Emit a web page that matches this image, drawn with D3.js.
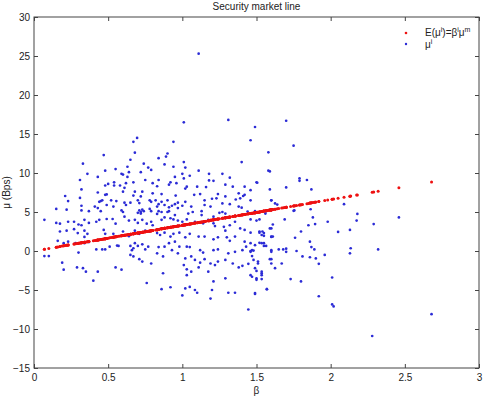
<!DOCTYPE html>
<html>
<head>
<meta charset="utf-8">
<script src="https://cdn.jsdelivr.net/npm/d3@7"></script>
<style>
  body { margin: 0; background: #fff; }
  text { font-family: "Liberation Sans", Arial, sans-serif; fill: #222; }
</style>
</head>
<body>
<div id="chart"></div>
<script>
// asset betas and their realised mean returns (Bps)
var beta = [
  0.695,0.67,0.68,0.47,0.65,0.33,0.74,0.55,0.63,0.48,0.77,0.79,0.36,0.43,0.59,0.60,0.72,0.31,0.63,0.67,
  0.75,0.50,0.48,0.54,0.54,0.62,0.61,0.58,0.80,0.32,0.43,0.60,0.68,0.73,0.48,0.49,0.67,0.80,0.21,0.31,
  0.72,0.23,0.45,0.46,0.44,0.52,0.555,0.61,0.62,0.65,0.70,0.71,0.78,0.79,0.32,0.41,0.49,0.535,0.15,0.22,
  0.32,0.37,0.43,0.45,0.59,0.60,0.71,0.72,0.74,0.78,0.79,0.72,0.73,0.70,
  1.49,0.94,1.46,0.90,0.89,0.84,1.01,1.40,0.88,0.94,1.02,1.11,1.58,1.59,1.00,0.95,1.05,1.01,1.18,1.27,
  1.32,0.84,1.18,1.21,0.92,0.91,0.96,1.50,0.83,1.03,1.02,1.10,1.16,1.29,1.34,1.42,1.46,0.86,1.08,1.12,
  1.24,1.29,1.38,1.42,1.41,0.955,0.82,0.86,0.90,0.97,1.02,1.15,1.20,1.23,1.36,1.39,1.46,1.60,0.84,0.83,
  0.88,0.91,0.93,0.95,0.97,1.00,1.06,1.15,1.19,1.27,1.32,1.38,1.40,0.84,0.86,0.90,0.91,1.04,1.07,1.13,
  1.27,1.29,1.44,1.49,1.56,
  0.07,0.15,0.175,0.23,0.27,0.30,0.34,0.37,0.32,0.42,0.44,0.49,0.53,0.55,0.61,0.64,0.68,0.70,0.73,0.76,
  0.79,0.80,0.175,0.22,0.27,0.295,0.34,0.36,0.34,0.47,0.48,0.535,0.60,0.64,0.68,0.71,0.75,0.78,0.16,0.20,
  0.23,0.28,0.30,0.34,0.37,0.42,0.46,0.48,0.51,0.56,0.57,0.65,0.66,0.67,0.68,0.70,0.73,0.75,0.77,0.07,
  0.10,0.65,0.67,0.71,0.73,0.19,0.20,0.29,0.33,0.35,0.43,0.55,0.59,0.79,0.40,0.76,
  0.83,0.95,1.13,1.21,1.25,0.86,0.88,0.92,0.94,0.97,1.00,1.03,1.085,1.14,1.175,1.21,1.22,1.28,1.29,1.32,
  1.355,1.39,1.42,1.46,1.52,1.55,1.59,1.60,0.83,0.85,0.88,0.92,0.94,0.98,1.02,1.05,1.11,1.15,1.21,1.24,
  1.30,1.32,1.355,1.42,1.46,1.535,0.91,0.95,0.84,0.88,0.93,0.98,1.03,1.05,1.12,1.14,1.21,1.24,1.31,1.355,
  1.405,1.43,1.46,1.49,1.535,1.55,1.60,0.83,0.87,0.97,1.02,1.06,1.085,1.12,1.15,1.19,1.22,1.24,1.29,1.34,
  1.38,1.405,1.445,1.49,1.51,1.535,1.59,1.60,1.01,1.03,1.06,1.11,0.87,1.03,1.175,1.21,1.29,1.47,1.50,1.535,
  0.86,0.92,1.02,1.05,1.085,1.10,1.20,1.31,1.355,1.49,1.57,1.19,1.00,1.445,
  1.11,1.01,1.31,1.70,1.75,1.58,0.64,1.505,1.59,1.70,1.79,1.79,1.84,1.87,1.60,1.625,1.64,2.09,1.565,1.60,
  1.75,1.755,1.865,1.46,1.50,1.52,1.69,1.88,1.98,2.18,2.175,2.46,2.29,1.61,1.60,1.85,1.895,1.52,1.54,1.55,
  1.60,1.61,1.80,2.05,2.13,1.76,1.86,1.87,1.89,1.52,1.55,1.565,1.46,1.47,1.48,1.60,1.65,1.68,1.70,1.70,
  1.77,1.96,2.135,2.13,2.32,1.81,1.86,1.90,1.92,1.47,1.48,1.51,1.60,1.625,1.67,1.46,1.50,1.535,1.50,1.535,
  1.73,1.80,2.01,1.57,1.49,1.92,2.01,2.02,2.68,2.28
];
var muI = [
  14.5,14.0,12.6,12.3,11.7,11.2,11.2,10.5,10.8,10.3,10.7,10.4,9.9,9.5,9.9,9.8,10.1,9.1,9.5,8.8,
  9.1,8.6,8.4,8.8,8.4,8.7,8.1,8.4,8.7,7.9,7.5,7.6,7.6,7.6,7.2,7.25,7.1,7.4,7.05,6.8,
  7.0,6.4,6.4,6.5,6.3,6.5,6.4,6.2,5.9,6.2,6.5,6.15,6.5,6.3,5.8,5.7,5.9,5.7,5.4,5.3,
  5.2,5.1,5.5,5.1,5.2,5.0,5.2,5.0,5.1,5.4,5.1,4.8,5.3,4.9,
  15.9,14.0,14.2,12.5,12.1,11.9,11.4,11.4,11.1,10.8,10.7,10.3,10.3,10.2,9.9,9.5,9.65,9.3,9.9,9.9,
  9.4,9.1,9.05,9.0,8.8,8.5,8.7,8.8,8.3,8.25,8.0,8.25,8.2,8.5,8.25,8.25,7.8,7.3,7.2,7.3,
  7.3,7.0,7.4,7.2,7.05,7.1,6.5,6.3,6.5,6.2,6.3,6.5,6.7,6.75,6.6,6.75,6.5,6.5,6.0,5.7,
  5.9,5.6,5.8,6.0,5.5,5.8,5.7,5.9,5.7,6.1,6.0,5.7,5.55,5.1,5.0,5.0,5.1,4.8,5.0,5.1,
  5.0,4.8,5.05,5.1,4.8,
  4.0,3.6,3.5,3.75,3.75,3.4,4.0,3.6,3.3,3.75,4.0,4.1,4.1,3.5,4.4,3.9,4.0,3.6,4.0,3.5,
  3.75,3.3,2.5,2.6,2.8,2.3,2.6,2.2,1.8,2.7,2.2,2.2,2.5,1.9,2.6,2.2,2.6,2.5,1.3,1.0,
  1.2,1.0,-0.2,1.0,1.15,0.2,0.2,0.2,0.55,0.7,0.65,0.65,0.1,0.35,1.0,0.65,0.85,0.2,0.55,-0.65,
  -0.65,-0.5,-0.7,-1.05,-1.35,-1.5,-2.4,-2.1,-2.2,-2.65,-2.65,-2.1,-2.4,-1.6,-3.8,-4.1,
  4.75,4.6,4.6,4.4,4.9,4.0,4.3,4.2,4.05,3.9,3.75,4.05,3.75,3.55,4.0,3.55,3.2,3.1,2.6,3.3,
  3.75,2.9,2.7,2.35,2.5,2.3,2.9,1.8,2.3,2.05,2.35,1.85,2.2,2.35,1.75,2.2,1.85,1.85,1.5,1.75,
  1.75,1.3,1.85,1.2,1.0,2.05,1.0,1.2,0.5,0.55,0.1,0.55,0.55,0.5,0.1,-0.2,0.1,0.2,-0.3,-0.1,
  0.1,0.55,-0.1,0.75,1.0,0.65,-0.1,-0.3,-0.7,-0.3,-0.95,-0.7,-1.15,-1.5,-1.05,-1.6,-1.8,-1.35,-1.15,-1.6,
  -2.1,-1.9,-1.65,-2.2,-1.35,-2.65,-1.05,-1.6,-1.8,-2.35,-2.65,-2.1,-2.85,-3.1,-2.65,-3.9,-3.5,-3.3,-3.7,-3.1,
  -4.9,-4.65,-4.8,-4.6,-5.0,-5.35,-5.0,-5.35,-5.35,-5.5,-4.9,-6.1,-5.7,-7.5,
  25.3,16.5,16.8,16.7,13.5,12.65,10.1,8.75,7.9,8.15,9.3,9.0,9.1,7.9,6.5,6.1,5.95,6.0,5.1,5.25,
  5.15,5.2,5.35,4.05,3.9,4.05,4.05,4.3,3.75,4.75,3.9,4.3,3.45,3.4,2.9,3.3,3.45,2.35,2.5,1.95,
  1.85,1.85,2.5,2.45,2.7,1.7,1.2,0.5,0.2,1.05,1.0,0.65,0.0,0.1,0.05,0.1,0.2,0.2,0.3,-0.1,
  0.0,-0.5,0.35,-0.3,0.2,-0.7,-0.8,-0.95,-1.65,-0.65,-1.15,-1.6,-1.05,-2.2,-1.6,-3.1,-2.55,-2.85,-3.5,-3.6,
  -3.6,-3.9,-3.4,-4.9,-5.4,-5.8,-6.85,-7.1,-8.1,-10.9
];
// market mean return: the red points are E(mu_i) = beta_i * muM
var muM = 3.3;

var xTicks = [0, 0.5, 1, 1.5, 2, 2.5, 3];
var yTicks = [-15, -10, -5, 0, 5, 10, 15, 20, 25, 30];

var W = 489, H = 402;
var margin = {top: 17, right: 10, bottom: 34, left: 34};
var width = W - margin.left - margin.right,
    height = H - margin.top - margin.bottom;

var svg = d3.select("#chart").append("svg")
    .attr("width", W)
    .attr("height", H);

var g = svg.append("g")
    .attr("transform", "translate(" + margin.left + "," + margin.top + ")");

var x = d3.scaleLinear().domain([0, 3]).range([0, width]);
var y = d3.scaleLinear().domain([-15, 30]).range([height, 0]);

var axisColor = "#444";

// bottom axis with labels, ticks pointing inward
g.append("g")
    .attr("transform", "translate(0," + height + ")")
    .call(d3.axisBottom(x).tickValues(xTicks).tickSize(-4).tickPadding(6)
      .tickFormat(function(d) { return d3.format("")(d); }));
g.append("g")
    .call(d3.axisLeft(y).tickValues(yTicks).tickSize(-4).tickPadding(4));
// top and right: ticks only
g.append("g")
    .call(d3.axisTop(x).tickValues(xTicks).tickSize(-4).tickFormat(""));
g.append("g")
    .attr("transform", "translate(" + width + ",0)")
    .call(d3.axisRight(y).tickValues(yTicks).tickSize(-4).tickFormat(""));

g.selectAll(".domain").remove();
g.selectAll(".tick line").attr("stroke", axisColor);
g.selectAll(".tick text")
    .attr("font-size", 10)
    .attr("font-family", "Liberation Sans, Arial, sans-serif")
    .attr("fill", "#222");

g.append("rect")
    .attr("width", width)
    .attr("height", height)
    .attr("fill", "none")
    .attr("stroke", axisColor)
    .attr("stroke-width", 1);

// mu_i scatter (blue)
var pts = beta.map(function(b, i) { return [b, muI[i]]; });
g.selectAll(".dot.mu")
    .data(pts)
  .enter().append("circle")
    .attr("class", "dot mu")
    .attr("cx", function(d) { return x(d[0]); })
    .attr("cy", function(d) { return y(d[1]); })
    .attr("r", 1.35)
    .attr("fill", "#2b2bd6");

// expected returns (red) on the security market line
g.selectAll(".dot.sml")
    .data(beta)
  .enter().append("circle")
    .attr("class", "dot sml")
    .attr("cx", function(d) { return x(d); })
    .attr("cy", function(d) { return y(d * muM); })
    .attr("r", 1.5)
    .attr("fill", "#ee1111");

// title and axis labels
svg.append("text")
    .attr("x", margin.left + width / 2)
    .attr("y", 10)
    .attr("text-anchor", "middle")
    .attr("font-size", 10)
    .text("Security market line");

svg.append("text")
    .attr("x", margin.left + width / 2)
    .attr("y", 394)
    .attr("text-anchor", "middle")
    .attr("font-size", 10)
    .text("β");

svg.append("text")
    .attr("transform", "translate(10," + (margin.top + height / 2) + ") rotate(-90)")
    .attr("text-anchor", "middle")
    .attr("font-size", 10)
    .text("μ (Bps)");

// legend
var legend = svg.append("g").attr("transform", "translate(406,0)");
legend.append("circle").attr("cx", 0).attr("cy", 33).attr("r", 1.3).attr("fill", "#ee1111");
legend.append("circle").attr("cx", 0).attr("cy", 44).attr("r", 1.2).attr("fill", "#2b2bd6");

var t1 = legend.append("text").attr("x", 19).attr("y", 36).attr("font-size", 10);
t1.append("tspan").text("E(μ");
t1.append("tspan").attr("dy", -4).attr("font-size", 7).text("i");
t1.append("tspan").attr("dy", 4).text(")=β");
t1.append("tspan").attr("dy", -4).attr("font-size", 7).text("i");
t1.append("tspan").attr("dy", 4).text("μ");
t1.append("tspan").attr("dy", -4).attr("font-size", 7).text("m");

var t2 = legend.append("text").attr("x", 19).attr("y", 48).attr("font-size", 10);
t2.append("tspan").text("μ");
t2.append("tspan").attr("dy", -4).attr("font-size", 7).text("i");
</script>
</body>
</html>
